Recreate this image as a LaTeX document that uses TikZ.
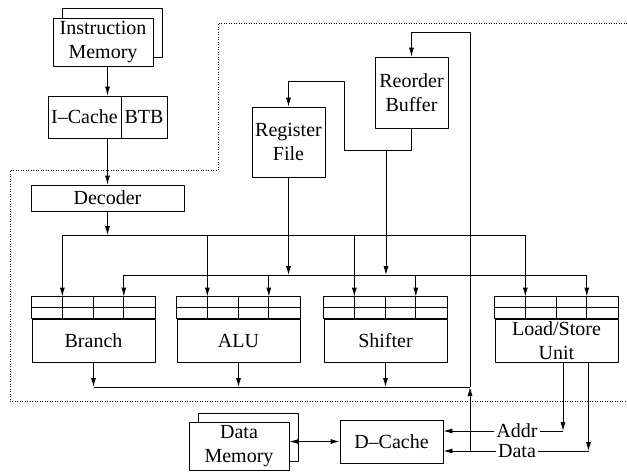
\documentclass[tikz,border=0pt]{standalone}
\usepackage{fontspec}
\setmainfont{Liberation Serif}
\usetikzlibrary{calc,arrows.meta}
\begin{document}
\begin{tikzpicture}[x=0.6pt,y=-0.6pt,line join=round,line width=0.5pt,>={Latex[length=5.4pt,width=3pt]},
  box/.style 2 args={draw,fill=white,inner sep=0pt,align=center,
    minimum width=#1*0.6pt,minimum height=#2*0.6pt,
    font=\fontsize{12}{14.4}\selectfont},
  lbl/.style={inner sep=1pt,font=\fontsize{12}{14.4}\selectfont}]
\useasboundingbox (0,0) rectangle (627,471);

\draw[densely dotted](627,23)--(218,23)--(218,170)--(10,170)--(10,401)--(627,401);

\node[box={100}{49}] (imemb) at (112,32.5) {};
\node[box={100}{48}] (imem) at (103,42) {Instruction\\Memory};
\node[box={73}{42}] (icache) at (84.5,117) {I--Cache};
\node[box={46}{42}] (btb) at (144,117) {BTB};
\node[box={153}{26}] (decoder) at (107.5,198) {Decoder};
\node[box={73}{70}] (regfile) at (288.5,142) {Register\\File};
\node[box={73}{71}] (rob) at (411.5,92.5) {Reorder\\Buffer};

\foreach \n/\x/\t in {branch/93.5/Branch,alu/238.5/ALU,shifter/385.5/Shifter,ls/556.5/{Load/Store\\Unit}}{
  \node[box={123}{43}] (\n) at (\x,340.5) {\t};
  \draw (\n.north west) rectangle ($(\n.north east)+(0,-22)$);
  \draw ($(\n.north west)+(0,-11)$) -- ++(123,0);
  \foreach \i in {1,2,3}
    \draw ($(\n.north west)+(\i*30.75,0)$) -- ++(0,-22);
  \coordinate (\n-a) at ($(\n.north west)+(30.75,-22)$);
  \coordinate (\n-c) at ($(\n.north west)+(92.25,-22)$);
}

\node[box={103}{43}] (dcache) at (391.5,441.5) {D--Cache};
\node[box={100}{48}] (dmemb) at (248,437) {};
\node[box={100}{48}] (dmem) at (239,446) {Data\\Memory};
\node[lbl] (addr) at (517,431) {Addr};
\node[lbl] (data) at (517,451) {Data};

\coordinate (bus1) at (0,235);
\coordinate (bus2) at (0,275);
\coordinate (res) at (0,387);
\coordinate (rv) at (470,451);
\coordinate (rj) at (386,150);
\coordinate (wb) at (344,81);
\coordinate (top) at (0,32);
\coordinate (lsa) at ($(ls.south)+(6.5,0)$);
\coordinate (lsd) at ($(ls.south)+(32,0)$);

\draw[->] (imem.south -| decoder.north) -- (icache.north -| decoder.north);
\draw[->] (icache.south -| decoder.north) -- (decoder.north);
\draw[->] (decoder.south) -- (decoder.south |- bus1);

\draw (branch-a |- bus1) -- (ls-a |- bus1);
\draw (branch-c |- bus2) -- (ls-c |- bus2);
\foreach \n in {branch,alu,shifter,ls}{
  \draw[->] (\n-a |- bus1) -- (\n-a);
  \draw[->] (\n-c |- bus2) -- (\n-c);
}

\draw[->] (regfile.south) -- (regfile.south |- bus2);
\draw[->] (rob.south) |- (wb |- rj) -- (wb) -| (regfile.north);
\draw[->] (rj) -- (rj |- bus2);

\foreach \n in {branch,alu,shifter}
  \draw[->] (\n.south) -- (\n.south |- res);
\draw (branch.south |- res) -- (rv |- res);
\draw[->] (rv) -- (rv |- res);
\draw[->] (rv |- res) |- (rob.north |- top) -- (rob.north);

\draw[->] (lsa) -- (lsa |- addr);
\draw (lsa |- addr) -- (addr.east);
\draw[->] (addr.west) -- (dcache.east |- addr);
\draw[->] (lsd) -- (lsd |- data);
\draw (lsd |- data) -- (data.east);
\draw[->] (data.west) -- (dcache.east |- data);
\draw[<->] (dcache.west -| dmem.east) -- (dcache.west);
\end{tikzpicture}
\end{document}
